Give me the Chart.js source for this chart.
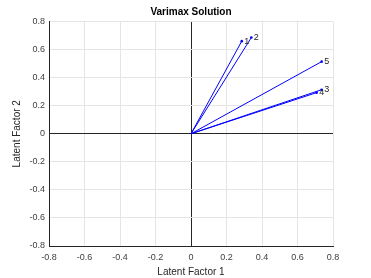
<!DOCTYPE html>
<html><head><meta charset="utf-8">
<script src="https://cdn.jsdelivr.net/npm/chart.js@4/dist/chart.umd.min.js"></script>
<style>html,body{margin:0;padding:0;background:#fff}#wrap{width:371px;height:278px}</style>
</head><body><div id="wrap"><canvas id="c" width="371" height="278"></canvas></div>
<script>
const varNames = ['1', '2', '3', '4', '5'];
const factor1 = [0.286, 0.340, 0.736, 0.708, 0.736];
const factor2 = [0.660, 0.686, 0.314, 0.293, 0.514];
const tickValues = [-0.8, -0.6, -0.4, -0.2, 0, 0.2, 0.4, 0.6, 0.8];
const chartTitle = 'Varimax Solution';

const FONT = "'Liberation Sans', Arial, sans-serif";
const datasets = varNames.map((n, i) => ({
  label: n,
  data: [{x: 0, y: 0}, {x: factor1[i], y: factor2[i]}],
  showLine: true,
  borderColor: '#0000ff',
  backgroundColor: '#0000ff',
  borderWidth: 1,
  pointRadius: [0, 1.3],
  pointBorderWidth: 0
}));

const labelPlugin = {
  id: 'labels',
  afterDatasetsDraw(chart) {
    const ctx = chart.ctx, xs = chart.scales.x, ys = chart.scales.y, ca = chart.chartArea;
    ctx.save();
    ctx.font = '9px ' + FONT;
    ctx.fillStyle = '#222';
    ctx.textAlign = 'left';
    ctx.textBaseline = 'middle';
    varNames.forEach((n, i) => {
      ctx.fillText(n, xs.getPixelForValue(factor1[i]) + 2.5, ys.getPixelForValue(factor2[i]));
    });
    ctx.font = 'bold 10px ' + FONT;
    ctx.fillStyle = '#000';
    ctx.textAlign = 'center';
    ctx.fillText(chartTitle, (ca.left + ca.right) / 2, 12.5);
    ctx.restore();
  }
};

const gridColor = c => (Math.abs(c.tick.value) < 1e-9 ? '#262626' : '#e5e5e5');

new Chart(document.getElementById('c'), {
  type: 'scatter',
  data: {datasets},
  options: {
    responsive: false,
    animation: false,
    layout: {padding: {left: 0, right: 38, top: 21.5, bottom: 0}},
    plugins: {
      legend: {display: false},
      tooltip: {enabled: false},
      title: {display: false}
    },
    scales: {
      x: {
        type: 'linear', min: -0.8, max: 0.8,
        afterBuildTicks: s => { s.ticks = tickValues.map(v => ({value: v})); },
        afterFit: s => { s.height = 32; },
        grid: {color: gridColor, drawTicks: false, lineWidth: 1},
        border: {color: '#262626', width: 1},
        ticks: {color: '#404040', padding: 6, font: {family: FONT, size: 9}, maxRotation: 0,
          callback: v => String(Math.round(v * 10) / 10)},
        title: {display: true, text: 'Latent Factor 1', color: '#262626',
          font: {family: FONT, size: 10}, padding: {top: 2, bottom: 0}}
      },
      y: {
        type: 'linear', min: -0.8, max: 0.8,
        afterBuildTicks: s => { s.ticks = tickValues.map(v => ({value: v})); },
        afterFit: s => { s.width = 49; },
        grid: {color: gridColor, drawTicks: false, lineWidth: 1},
        border: {color: '#262626', width: 1},
        ticks: {color: '#404040', padding: 4, font: {family: FONT, size: 9},
          callback: v => String(Math.round(v * 10) / 10)},
        title: {display: true, text: 'Latent Factor 2', color: '#262626',
          font: {family: FONT, size: 10}, padding: {top: 11, bottom: 2}}
      }
    }
  },
  plugins: [labelPlugin]
});
</script></body></html>
